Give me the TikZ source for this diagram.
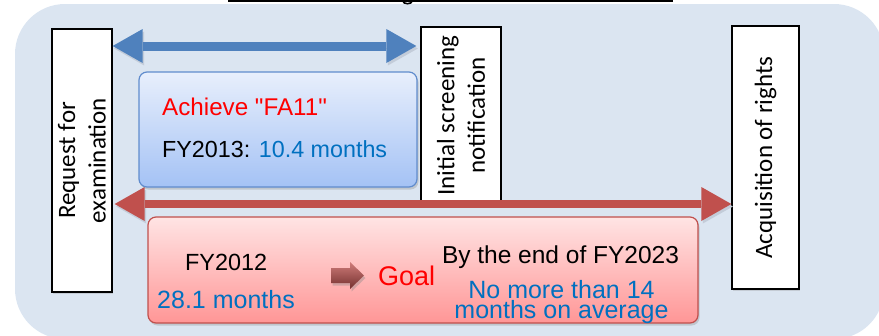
\documentclass[tikz,border=0pt]{standalone}
\usepackage{fontspec}
\setmainfont{Liberation Sans}
\newfontfamily\labelfont{Carlito}
\usetikzlibrary{arrows.meta,shadows}

\definecolor{panel}{RGB}{219,229,241}
\definecolor{arrowblue}{RGB}{79,129,189}
\definecolor{arrowred}{RGB}{192,80,77}
\definecolor{textblue}{RGB}{0,112,192}
\definecolor{arrowshadow}{RGB}{195,204,217}
\definecolor{bluetop}{RGB}{232,239,252}
\definecolor{bluebottom}{RGB}{164,194,245}
\definecolor{blueedge}{RGB}{96,140,205}
\definecolor{redtop}{RGB}{255,228,228}
\definecolor{redbottom}{RGB}{255,150,150}
\definecolor{rededge}{RGB}{192,80,77}

\newcommand{\fs}[1]{\fontsize{#1}{1.2\dimexpr#1pt\relax}\selectfont}
% straight double quote, taken by glyph name so no text mapping curls it
\newcommand{\straightquote}{\XeTeXglyph\XeTeXglyphindex "quotedbl"\relax}

\begin{document}
\begin{tikzpicture}[x=1pt,y=-1pt,
  stagebox/.style={draw=black, line width=1.3pt, fill=white, rotate=90,
    align=center, inner sep=0pt,
    font=\labelfont\fontsize{25}{30.5}\selectfont,
    drop shadow={opacity=0.25, shadow xshift=1pt, shadow yshift=-1.5pt}},
  goalpanel/.style={rounded corners=8pt, line width=1.2pt, inner sep=0pt,
    drop shadow={opacity=0.3, shadow xshift=1.5pt, shadow yshift=-2.5pt}},
  bluepanel/.style={goalpanel, draw=blueedge, top color=bluetop, bottom color=bluebottom},
  redpanel/.style={goalpanel, draw=rededge, top color=redtop, bottom color=redbottom},
  spanarrow/.style={line width=#1,
    {Triangle[length=30pt,width=34pt,line width=0pt]}-{Triangle[length=30pt,width=34pt,line width=0pt]},
    preaction={draw=arrowshadow, transform canvas={shift={(1.5pt,-2.5pt)}}}},
  txt/.style={anchor=base west, inner sep=0pt},
  ctxt/.style={anchor=base, inner sep=0pt}
]
\useasboundingbox (0,0) rectangle (879,335);

% panel behind everything
\fill[panel, rounded corners=50pt] (15,4) rectangle (884,339);

% title underline, with the tail of a letter dipping through it
\draw[line width=2.4pt] (228,1.2) -- (673,1.2);
\draw[line width=1.6pt] (402.5,0.5) .. controls (403,4.8) and (412,4.8) .. (412.5,0.5);

% milestones
\node[stagebox, minimum width=263pt, minimum height=60pt] (req) at (82,160.5) {Request for\\examination};
\node[stagebox, minimum width=177pt, minimum height=80pt] (init) at (461,115.5) {Initial screening\\notification};
\node[stagebox, minimum width=263pt, minimum height=67pt] (acq) at (765.5,157.5) {Acquisition of rights};

% spans between milestones
\coordinate (rowA) at (0,46);
\coordinate (rowB) at (0,204);
\draw[spanarrow=9pt, arrowblue, shorten >=4pt] (req.south |- rowA) -- (init.north |- rowA);
\draw[spanarrow=8pt, arrowred, shorten <=2pt] (req.south |- rowB) -- (acq.north |- rowB);

% first-action target
\node[bluepanel, minimum width=278pt, minimum height=115pt] (fa) at (278,129.5) {};
\node[txt, text=red, font=\fs{24.2}] (fatitle) at (162,115) {Achieve \straightquote FA11\straightquote};
\node[txt, font=\fs{23.3}] (fy13) at (162,157) {FY2013: \textcolor{textblue}{10.4 months}};

% total pendency goal
\node[redpanel, minimum width=550pt, minimum height=106pt] (goal) at (423,270) {};
\node[txt, font=\fs{23.4}] (fy12) at (185,270) {FY2012};
\node[txt, text=textblue, font=\fs{25}] (fy12v) at (157,308) {28.1 months};
\node[txt, text=red, font=\fs{27}] (goalword) at (378,285) {Goal};
\node[ctxt, font=\fs{24.5}] (fy23) at (560.5,263) {By the end of FY2023};
\node[ctxt, text=textblue, align=center, font=\fontsize{25}{18}\selectfont] (fy23a) at (561.5,318)
  {No more than 14\\months on average};

% small pointer towards the goal
\shade[top color=arrowred!75!white, bottom color=arrowred!60!black,
  drop shadow={opacity=0.35, shadow xshift=1.5pt, shadow yshift=-2.5pt}]
  (331,268) -- (350,268) -- (350,262) -- (364,275.5) -- (350,289) -- (350,283) -- (331,283) -- cycle;
\end{tikzpicture}
\end{document}
